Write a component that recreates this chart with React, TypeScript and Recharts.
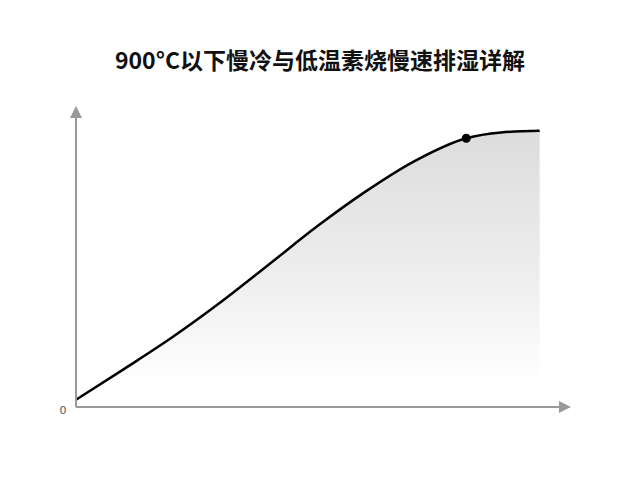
import React from 'react';
import { ComposedChart, Area, XAxis, YAxis, ReferenceDot } from 'recharts';

// curve samples (x: time share, y: relative temperature)
const times = [0, 10, 20, 30, 40, 50, 60, 70, 80.8, 88, 96];
const values = [2.5, 13.2, 24.2, 36.3, 49.4, 62.6, 74.6, 85.0, 93.0, 95.0, 95.6];
const highlight = [80.8, 93.0];
const yTicks = [0];

const data = times.map((t, i) => ({ t, v: values[i] }));

const ZeroTick = (props: any) => {
  const { x, y, payload } = props;
  return (
    <text x={x - 13} y={y + 7} textAnchor="middle" fontSize={11} fill="#555" fontFamily="DejaVu Sans, sans-serif">
      {payload.value}
    </text>
  );
};

export default function App() {
  return (
    <div style={{ position: 'absolute', left: 0, top: 0, width: 640, height: 480, background: '#fff' }}>
      <div
        style={{
          position: 'absolute',
          top: 44,
          left: 0,
          width: 640,
          textAlign: 'center',
          fontFamily: '"Noto Sans CJK SC", "Noto Sans", sans-serif',
          fontWeight: 700,
          fontSize: 23,
          lineHeight: '30px',
          color: '#111',
        }}
      >
        900°C以下慢冷与低温素烧慢速排湿详解
      </div>
      <ComposedChart width={640} height={480} data={data} margin={{ top: 118, right: 81, left: 56, bottom: 63 }}>
        <defs>
          <linearGradient id="fillGrey" x1="0" y1="0" x2="0" y2="1">
            <stop offset="0%" stopColor="#dcdcdc" stopOpacity={1} />
            <stop offset="50%" stopColor="#ededed" stopOpacity={1} />
            <stop offset="92%" stopColor="#ffffff" stopOpacity={1} />
          </linearGradient>
          <marker id="arrowX" viewBox="0 0 12 12" refX="0" refY="6" markerWidth="14" markerHeight="12" markerUnits="userSpaceOnUse" orient="auto-start-reverse">
            <path d="M0,0 L12,6 L0,12 Z" fill="#999" />
          </marker>
        </defs>
        <XAxis
          dataKey="t"
          type="number"
          domain={[0, 100]}
          height={10}
          tick={false}
          tickLine={false}
          axisLine={{ stroke: '#999', strokeWidth: 2, markerEnd: 'url(#arrowX)' }}
        />
        <YAxis
          type="number"
          domain={[0, 100]}
          width={20}
          ticks={yTicks}
          tick={<ZeroTick />}
          tickLine={false}
          tickSize={0}
          tickMargin={0}
          axisLine={{ stroke: '#999', strokeWidth: 2, markerStart: 'url(#arrowX)' }}
        />
        <Area
          type="monotone"
          dataKey="v"
          stroke="#000"
          strokeWidth={2.5}
          fill="url(#fillGrey)"
          fillOpacity={1}
          dot={false}
          activeDot={false}
          isAnimationActive={false}
        />
        <ReferenceDot x={highlight[0]} y={highlight[1]} r={4.5} fill="#000" stroke="none" />
      </ComposedChart>
    </div>
  );
}
